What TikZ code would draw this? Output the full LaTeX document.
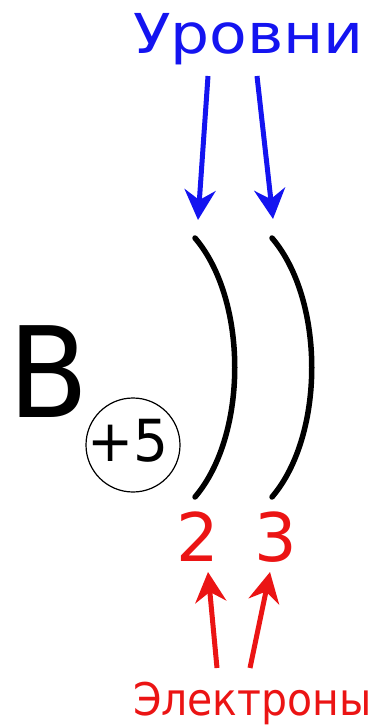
\documentclass[tikz,border=0pt]{standalone}
\usepackage{fontspec}
\setmainfont{DejaVu Sans}
\usetikzlibrary{arrows.meta}
\definecolor{lvlblue}{RGB}{20,20,240}
\definecolor{elred}{RGB}{235,20,20}
\tikzset{
  lbl/.style={inner sep=0pt, outer sep=0pt},
  bluearrow/.style={draw=lvlblue, line width=5pt, -{Stealth[length=30pt,width=31pt,inset=10pt]}},
  redarrow/.style={draw=elred, line width=5pt, -{Stealth[length=30pt,width=31pt,inset=10pt]}},
  shell/.style={draw=black, line width=5.5pt, line cap=round},
}
\begin{document}
\begin{tikzpicture}[x=1pt,y=-1pt]
\useasboundingbox (0,0) rectangle (381,728);
% labels
\node[lbl, anchor=base west, text=lvlblue, font=\fontsize{55}{55}\selectfont, xscale=1.12] (lev) at (133,53) {Уровни};
\node[lbl, anchor=base west, text=elred, font=\fontsize{45}{45}\selectfont, xscale=0.91] (el) at (133,715) {Электроны};
\node[lbl, anchor=base west, font=\fontsize{126}{126}\selectfont, xscale=0.93] (sym) at (9,417) {B};
\node[draw, circle, line width=1.2pt, minimum size=94pt, inner sep=0pt] (nuc) at (133,445) {};
\node[lbl, font=\fontsize{58}{58}\selectfont, xscale=0.95] (chg) at (128,441) {+5};
\node[lbl, text=elred, font=\fontsize{67}{67}\selectfont] (n2) at (198,537) {2};
\node[lbl, text=elred, font=\fontsize{67}{67}\selectfont] (n3) at (276,537) {3};
% shells
\coordinate (s1a) at (195,238); \coordinate (s1b) at (195,497);
\coordinate (s2a) at (272,238); \coordinate (s2b) at (272,497);
\draw[shell] (s1a) .. controls (248,300) and (248,435) .. (s1b);
\draw[shell] (s2a) .. controls (325,300) and (325,435) .. (s2b);
% arrow ends
\coordinate (b1s) at (208,76); \coordinate (b1e) at (198,220);
\coordinate (b2s) at (257,76); \coordinate (b2e) at (273,219);
\coordinate (r1s) at (217,668); \coordinate (r1e) at (208,572);
\coordinate (r2s) at (250,668); \coordinate (r2e) at (270,572);
\draw[bluearrow] (b1s) -- (b1e);
\draw[bluearrow] (b2s) -- (b2e);
\draw[redarrow] (r1s) -- (r1e);
\draw[redarrow] (r2s) -- (r2e);
\end{tikzpicture}
\end{document}
